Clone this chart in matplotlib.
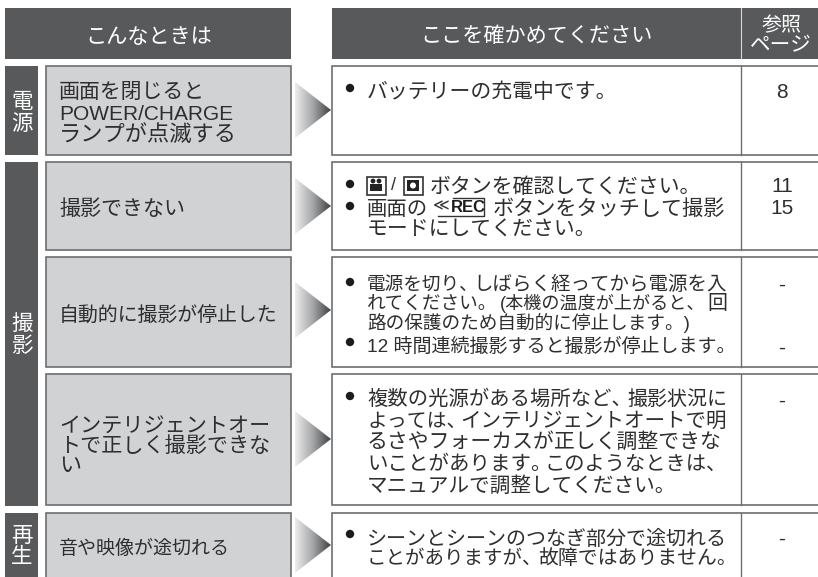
import numpy as np
import matplotlib
matplotlib.use('Agg')
import matplotlib.pyplot as plt
from matplotlib.patches import Rectangle, Polygon, Circle
from matplotlib.colors import LinearSegmentedColormap

plt.rcParams['font.family'] = ['Liberation Sans', 'Noto Sans CJK JP', 'DejaVu Sans']

# text content
headers = ['こんなときは', 'ここを確かめてください', '参照', 'ページ']
group_chars = ['電', '源', '撮', '影', '再', '生']
symptoms = ['画面を閉じると', 'POWER/CHARGE', 'ランプが点滅する', '撮影できない', '自動的に撮影が停止した',
            'インテリジェントオー', 'トで正しく撮影できな', 'い', '音や映像が途切れる']
checks = ['バッテリーの充電中です。',
          'ボタンを確認してください。',
          '画面の', 'ボタンをタッチして撮影',
          'モードにしてください。',
          '電源を切り、', 'しばらく経ってから電源を入',
          'れてください。', '(本機の温度が上がると、', '回',
          '路の保護のため自動的に停止します。)',
          '12 時間連続撮影すると撮影が停止します。',
          '複数の光源がある場所など、', '撮影状況に',
          'よっては、', 'インテリジェントオートで明',
          'るさやフォーカスが正しく調整できな',
          'いことがあります。', 'このようなときは、',
          'マニュアルで調整してください。',
          'シーンとシーンのつなぎ部分で途切れる',
          'ことがありますが、', '故障ではありません。']
pages = ['8', '11', '15', '-', '-', '-', '-']

# layout, pixels from top left
DARK = '#58595b'
GREY = '#d1d2d4'
EDGE = '#6d6e70'
INK = '#2e2e30'

header_pos = [(85, 212, 35), (420, 652, 34), (762, 802, 24), (750, 812, 44)]
group_spans = [(66, 155), (162, 506), (513, 577)]
group_y = [100, 123, 322, 345, 535, 555]
row_tops = [66, 162, 257, 374, 513]
row_bottoms = [155, 250, 367, 505, 580]
arrow_mid = [110, 206, 310, 439, 545]
symptom_pos = [(59, 205, 90), (59, 233, 112), (59, 237, 133), (59, 185, 207), (59, 278, 314),
               (59, 270, 424), (59, 270, 444), (59, 81, 464), (59, 230, 547)]
check_pos = [(367, 608, 90),
             (430, 693, 185),
             (367, 428, 207), (493, 725, 207),
             (367, 587, 228),
             (367, 470, 283), (473, 726, 283),
             (367, 488, 302), (500, 696, 302), (707, 727, 302),
             (367, 690, 322),
             (367, 727, 345),
             (367, 622, 397), (627, 727, 397),
             (367, 457, 419), (460, 727, 419),
             (367, 721, 440),
             (367, 542, 462), (545, 718, 462),
             (367, 667, 484),
             (367, 727, 537),
             (367, 533, 557), (538, 727, 557)]
bullets_y = [88, 184, 206, 282, 342, 396, 534]
pages_y = [90, 185, 207, 283, 346, 399, 537]

fig = plt.figure(figsize=(8.18, 5.77), dpi=100)
ax = fig.add_axes([0, 0, 1, 1])
ax.set_xlim(0, 818)
ax.set_ylim(577, 0)
ax.axis('off')
renderer = fig.canvas.get_renderer()


def fit_text(txt, x0, x1, yc, color=INK, size=14.5, **kw):
    # shrink or grow the font so the text runs from x0 to x1
    if txt[-1] in '、。':
        x1 += 9  # the sign only fills the left half of its box
    t = ax.text(x0, yc + size * 0.52, txt, color=color, fontsize=size, ha='left', va='baseline', **kw)
    w = t.get_window_extent(renderer).width
    new = size * (x1 - x0) / w
    new = min(max(new, size * 0.85), size * 1.12)
    t.set_fontsize(new)
    t.set_y(yc + new * 0.52)
    return t


grad = LinearSegmentedColormap.from_list('arrow', ['#ececed', '#a5a6a8', '#404143'])
ramp = np.linspace(0, 1, 64).reshape(1, -1)

# header bars
ax.add_patch(Rectangle((5, 8), 286, 51, fc=DARK, ec='none'))
ax.add_patch(Rectangle((332, 8), 486, 51, fc=DARK, ec='none'))
ax.plot([740.5, 740.5], [8, 59], color='#d8d8d8', lw=0.8)
for txt, (x0, x1, y) in zip(headers, header_pos):
    fit_text(txt, x0, x1, y, color='white')

for top, bottom in group_spans:
    ax.add_patch(Rectangle((5, top), 33, bottom - top, fc=DARK, ec='none'))
for c, y in zip(group_chars, group_y):
    ax.text(22, y + 7.5, c, color='white', fontsize=15.5, ha='center', va='baseline')

for top, bottom, mid in zip(row_tops, row_bottoms, arrow_mid):
    ax.add_patch(Rectangle((46, top), 245, bottom - top, fc=GREY, ec=EDGE, lw=1.2))
    ax.add_patch(Rectangle((332, top), 600, bottom - top, fc='white', ec=EDGE, lw=1.2))
    ax.plot([740.5, 740.5], [top, bottom], color=EDGE, lw=1.0)
    im = ax.imshow(ramp, cmap=grad, extent=(295, 331, mid + 29, mid - 29), aspect='auto', zorder=2)
    tri = Polygon([(295, mid - 28), (331, mid), (295, mid + 28)], fc='none', ec='none')
    ax.add_patch(tri)
    im.set_clip_path(tri)
ax.set_xlim(0, 818)
ax.set_ylim(577, 0)

for txt, (x0, x1, y) in zip(symptoms, symptom_pos):
    fit_text(txt, x0, x1, y)

for y in bullets_y:
    ax.add_patch(Circle((350, y), 4.2, fc='#1c1c1c', ec='none', zorder=3))

for txt, (x0, x1, y) in zip(checks, check_pos):
    fit_text(txt, x0, x1, y)

# inline icons of row 2
ax.add_patch(Rectangle((366.5, 176.5), 19, 18, fc='white', ec='#333333', lw=1.2))
ax.add_patch(Rectangle((370, 184), 12, 7, fc='#222222', ec='none'))
ax.add_patch(Circle((373, 181), 2.4, fc='#222222', ec='none'))
ax.add_patch(Circle((379, 181), 2.4, fc='#222222', ec='none'))
ax.text(393.5, 185, '/', color=INK, fontsize=13, ha='center', va='center')
ax.add_patch(Rectangle((403.5, 176.5), 19, 18, fc='white', ec='#333333', lw=1.2))
ax.add_patch(Rectangle((407, 180), 12, 11, fc='#222222', ec='none'))
ax.add_patch(Circle((413, 185.5), 3, fc='white', ec='none'))
ax.text(441, 206, '≪', color=INK, fontsize=11.5, ha='center', va='center', family=['DejaVu Sans'])
ax.text(468, 207, 'REC', color='#1c1c1c', fontsize=12, fontweight='bold', ha='center', va='center',
        family=['Liberation Sans Narrow', 'Liberation Sans'])
ax.plot([453, 484, 484, 438], [198, 198, 216, 216], color='#333333', lw=1.0)

for txt, y in zip(pages, pages_y):
    ax.text(782, y + 7.5, txt, color=INK, fontsize=15, ha='center', va='baseline')

fig.savefig('out.png', dpi=100)
